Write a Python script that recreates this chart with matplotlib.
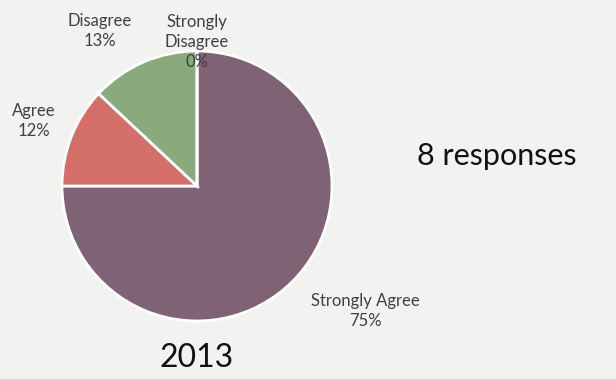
import matplotlib
matplotlib.use("Agg")
import matplotlib.pyplot as plt

# Survey results (percent of responses)
categories = ["Strongly Agree", "Agree", "Disagree", "Strongly Disagree"]
percents = [75, 12, 13, 0]
label_texts = ["Strongly Agree\n75%", "Agree\n12%", "Disagree\n13%", "Strongly\nDisagree\n0%"]
colors = ["#7f6274", "#d46e69", "#8aa97c", "#6e8fbf"]
subtitle = "8 responses"
year = "2013"

W, H = 616, 379
bg = "#f2f2f0"
plt.rcParams["font.family"] = ["Lato", "DejaVu Sans"]

fig = plt.figure(figsize=(W / 100, H / 100), dpi=100, facecolor=bg)

# pie axes: centre (197, 186) px, radius 135 px
cx, cy, r = 197, 186, 135
ax = fig.add_axes([(cx - r) / W, (H - cy - r) / H, 2 * r / W, 2 * r / H])
ax.set_facecolor(bg)
ax.pie(percents, colors=colors, startangle=90, counterclock=False, radius=1,
       wedgeprops=dict(edgecolor="white", linewidth=2))
ax.set_xlim(-1, 1)
ax.set_ylim(-1, 1)
ax.set_aspect("equal")
ax.axis("off")

# wedge labels placed at pixel positions (centre of each text block)
label_pos = [(365, 311), (34, 121), (100, 31), (197, 42)]
for txt, (x, y) in zip(label_texts, label_pos):
    fig.text(x / W, 1 - y / H, txt, ha="center", va="center", fontsize=12,
             color="#404040", linespacing=1.3)

fig.text(497 / W, 1 - 156 / H, subtitle, ha="center", va="center", fontsize=22, color="#111111")
fig.text(197 / W, 1 - 358 / H, year, ha="center", va="center", fontsize=23, color="#111111")

fig.savefig("out.png", dpi=100, facecolor=bg)
